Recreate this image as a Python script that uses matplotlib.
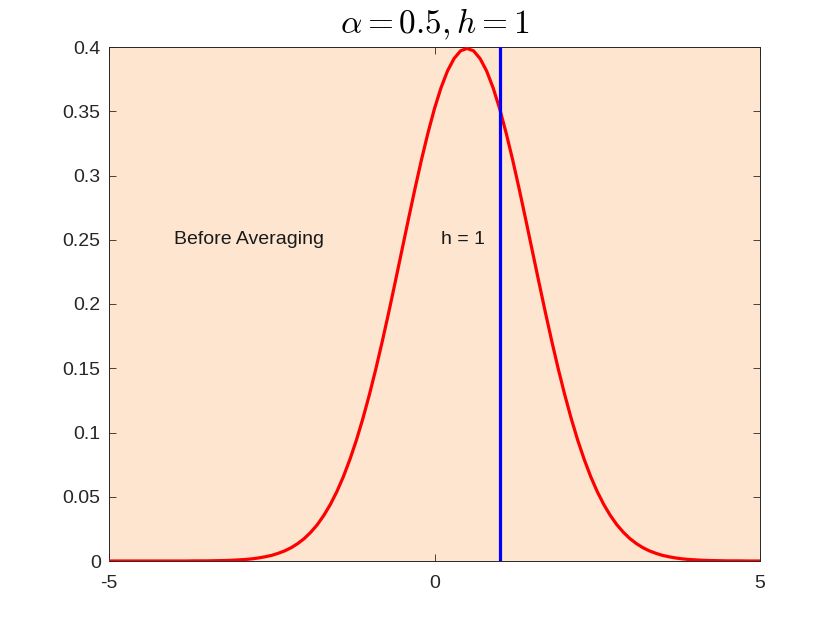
import numpy as np
import matplotlib.pyplot as plt

# ----------------------
# Data
# ----------------------
x_vals = np.linspace(-5, 5, 101)  # sample positions along the x axis
density = [0.0000, 0.0000, 0.0000, 0.0000, 0.0000, 0.0000, 0.0000, 0.0000, 0.0000, 0.0000,
           0.0000, 0.0000, 0.0000, 0.0001, 0.0001, 0.0001, 0.0002, 0.0003, 0.0004, 0.0006,
           0.0009, 0.0012, 0.0017, 0.0024, 0.0033, 0.0044, 0.0060, 0.0079, 0.0104, 0.0136,
           0.0175, 0.0224, 0.0283, 0.0355, 0.0440, 0.0540, 0.0656, 0.0790, 0.0940, 0.1109,
           0.1295, 0.1497, 0.1714, 0.1942, 0.2179, 0.2420, 0.2661, 0.2897, 0.3123, 0.3332,
           0.3521, 0.3683, 0.3814, 0.3910, 0.3970, 0.3989,
           0.3970, 0.3910, 0.3814, 0.3683, 0.3521, 0.3332, 0.3123, 0.2897, 0.2661, 0.2420,
           0.2179, 0.1942, 0.1714, 0.1497, 0.1295, 0.1109, 0.0940, 0.0790, 0.0656, 0.0540,
           0.0440, 0.0355, 0.0283, 0.0224, 0.0175, 0.0136, 0.0104, 0.0079, 0.0060, 0.0044,
           0.0033, 0.0024, 0.0017, 0.0012, 0.0009, 0.0006, 0.0004, 0.0003, 0.0002, 0.0001,
           0.0001, 0.0001, 0.0000, 0.0000, 0.0000]
h_value = 1
y_ticks = [0, 0.05, 0.1, 0.15, 0.2, 0.25, 0.3, 0.35, 0.4]
y_tick_labels = ['0', '0.05', '0.1', '0.15', '0.2', '0.25', '0.3', '0.35', '0.4']
x_ticks = [-5, 0, 5]
x_tick_labels = ['-5', '0', '5']

# ----------------------
# Plotting
# ----------------------
plt.rcParams['font.family'] = ['Liberation Sans', 'DejaVu Sans']
plt.rcParams['mathtext.fontset'] = 'cm'

fig = plt.figure(figsize=(8.4, 6.3), dpi=100)
ax = fig.add_axes([109 / 840, 1 - 561 / 630, 651 / 840, 514 / 630])
ax.set_facecolor('#fde5cf')

ax.plot(x_vals, density, color='red', linewidth=2.3, zorder=3)
ax.axvline(h_value, color='blue', linewidth=2.3, zorder=4)

ax.text(-4.0, 0.25, 'Before Averaging', fontsize=14, ha='left', va='center', color='#1a1a1a')
ax.text(0.1, 0.25, 'h = 1', fontsize=14, ha='left', va='center', color='#1a1a1a')

ax.set_xlim(-5, 5)
ax.set_ylim(0, 0.4)
ax.set_xticks(x_ticks)
ax.set_xticklabels(x_tick_labels)
ax.set_yticks(y_ticks)
ax.set_yticklabels(y_tick_labels)
ax.tick_params(direction='in', length=5, width=0.6, labelsize=14,
               top=True, right=True, colors='#262626')
ax.tick_params(axis='x', pad=10)
ax.tick_params(axis='y', pad=6)
for s in ax.spines.values():
    s.set_linewidth(0.7)
    s.set_color('#262626')

ax.set_title(r'$\alpha = 0.5, h = 1$', fontsize=24, pad=10)

plt.savefig('out.png', dpi=100)
